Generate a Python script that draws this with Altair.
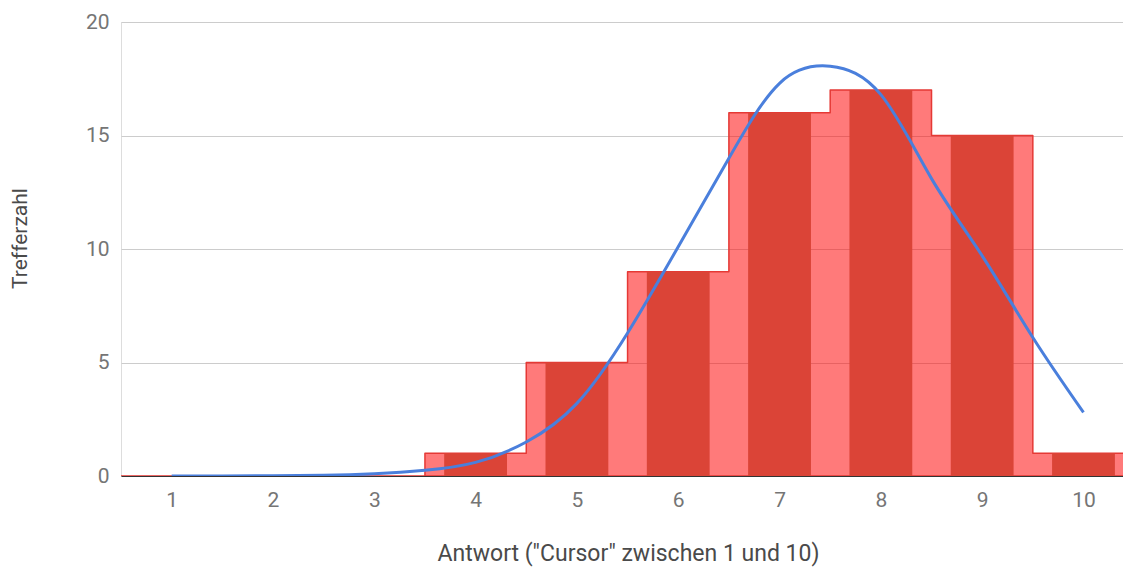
import altair as alt
import pandas as pd

# Categories and counts (histogram)
answers = [1, 2, 3, 4, 5, 6, 7, 8, 9, 10]
counts = [0, 0, 0, 1, 5, 9, 16, 17, 15, 1]

# Smooth fitted curve
curve_x = [1, 1.5, 2, 2.5, 3, 3.5, 4, 4.5, 5, 5.5, 6, 6.5, 7, 7.5, 8, 8.5, 9, 9.5, 10]
curve_y = [0.0, 0.0, 0.01, 0.03, 0.1, 0.25, 0.6, 1.5, 3.2, 6.3, 10.1, 14.0, 17.3, 18.05, 16.8, 13.1, 9.7, 6.1, 2.8]

bars = pd.DataFrame({"answer": answers, "count": counts})
steps = pd.DataFrame({
    "edge": [a - 0.5 for a in answers] + [answers[-1] + 0.5],
    "count": counts + [counts[-1]],
})
curve = pd.DataFrame({"x": curve_x, "y": curve_y})

FONT = "Roboto"
xscale = alt.Scale(domain=[0.5, 10.39], nice=False, zero=False)
yscale = alt.Scale(domain=[0, 20], nice=False)

xaxis = alt.Axis(
    values=answers, format="d", grid=False, ticks=False, domain=True,
    domainColor="#333333", domainWidth=1,
    labelFont=FONT, labelFontSize=21, labelColor="#757575", labelPadding=13,
    title='Antwort ("Cursor" zwischen 1 und 10)',
    titleFont=FONT, titleFontSize=23, titleFontWeight="normal", titleColor="#4a4a4a",
    titleX=507, titleY=77, titleAnchor="middle", titleAlign="center", titleBaseline="middle",
)
yaxis = alt.Axis(
    values=[0, 5, 10, 15, 20], grid=True, gridColor="#cccccc", gridWidth=1,
    ticks=False, domain=False,
    labelFont=FONT, labelFontSize=21, labelColor="#757575", labelPadding=12,
    title="Trefferzahl", titleFont=FONT, titleFontSize=21, titleFontWeight="normal",
    titleColor="#4a4a4a", titleX=-101, titleY=216, titleAngle=-90,
    titleAlign="center", titleBaseline="middle",
)

area = alt.Chart(steps).mark_area(
    interpolate="step-after", fill="#ff0000", fillOpacity=0.52,
    stroke="#e53935", strokeWidth=1.5, strokeJoin="round", clip=True,
).encode(
    x=alt.X("edge:Q", scale=xscale, axis=xaxis),
    y=alt.Y("count:Q", scale=yscale, axis=yaxis),
)

bar = alt.Chart(bars).transform_calculate(
    x0="datum.answer - 0.31", x1="datum.answer + 0.31"
).mark_rect(color="#db4437", clip=True).encode(
    x=alt.X("x0:Q", scale=xscale),
    x2="x1:Q",
    y=alt.Y("count:Q", scale=yscale),
    y2=alt.datum(0),
)

line = alt.Chart(curve).mark_line(
    interpolate="natural", color="#4a7fdc", strokeWidth=3, clip=True
).encode(
    x=alt.X("x:Q", scale=xscale),
    y=alt.Y("y:Q", scale=yscale),
)

chart = alt.layer(area, bar, line).properties(
    width=1002, height=454,
    autosize=alt.AutoSizeParams(type="none"),
    padding={"top": 14, "left": 113, "right": 0, "bottom": 96},
).configure_view(stroke=None).configure(background="white")

chart.save("out.html", embed_options={"renderer": "svg", "actions": False})
